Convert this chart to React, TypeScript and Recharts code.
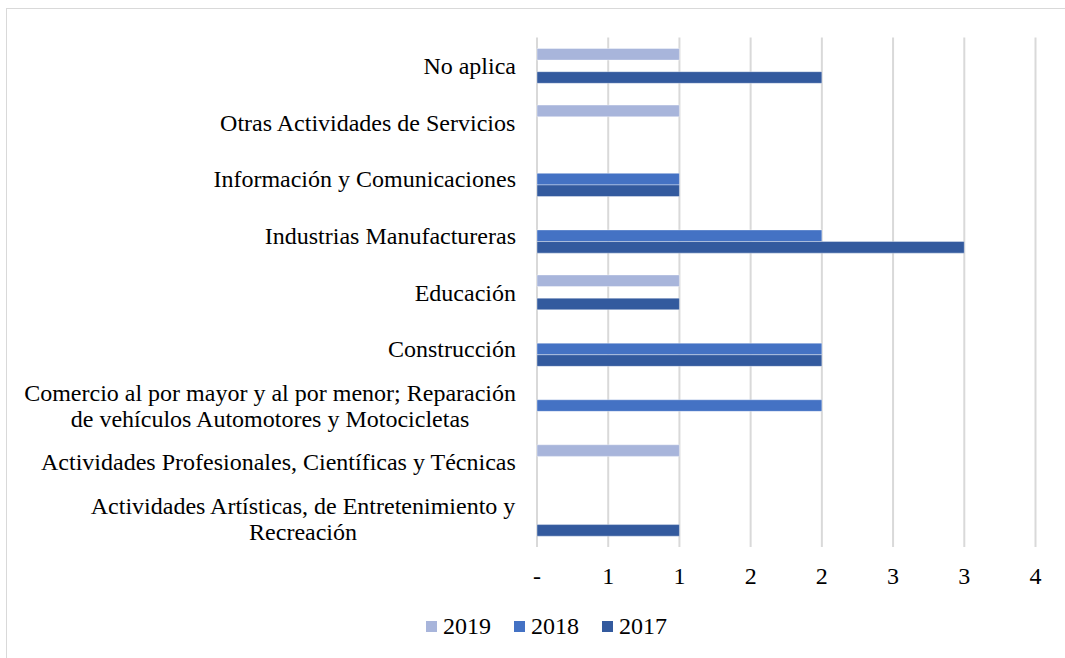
import { Bar, BarChart, CartesianGrid, Legend, XAxis, YAxis } from 'recharts';

// categories, top to bottom ('\n' marks where the label wraps)
const categories = [
  'No aplica',
  'Otras Actividades de Servicios',
  'Información y Comunicaciones',
  'Industrias Manufactureras',
  'Educación',
  'Construcción',
  'Comercio al por mayor y al por menor; Reparación\nde vehículos Automotores y Motocicletas',
  'Actividades Profesionales, Científicas y Técnicas',
  'Actividades Artísticas, de Entretenimiento y\nRecreación',
];

const values2019 = [1, 1, null, null, 1, null, null, 1, null];
const values2018 = [null, null, 1, 2, null, 2, 2, null, null];
const values2017 = [2, null, 1, 3, 1, 2, null, null, 1];

const seriesNames = ['2019', '2018', '2017'];

const xTicks = [0, 0.5, 1, 1.5, 2, 2.5, 3, 3.5];

const data = categories.map((name, i) => ({
  name,
  y2019: values2019[i],
  y2018: values2018[i],
  y2017: values2017[i],
}));

const FONT = "'Liberation Serif', 'Times New Roman', serif";

let ctx: CanvasRenderingContext2D | null = null;
const measure = (s: string) => {
  if (!ctx) ctx = document.createElement('canvas').getContext('2d');
  if (!ctx) return s.length * 10;
  ctx.font = `24px ${FONT}`;
  return ctx.measureText(s).width;
};

const CategoryTick = ({ x, y, payload }: any) => {
  const lines = String(payload.value).split('\n');
  const maxW = Math.max(...lines.map(measure));
  const cx = x - maxW / 2;
  return (
    <text x={cx} y={y} textAnchor="middle" fontSize={24} fontFamily={FONT} fill="#000">
      {lines.map((l, i) => (
        <tspan key={i} x={cx} y={y + (i - (lines.length - 1) / 2) * 26} dy="0.35em">
          {l}
        </tspan>
      ))}
    </text>
  );
};

const LegendContent = ({ payload }: any) => {
  const items = [...(payload || [])].sort(
    (a: any, b: any) => seriesNames.indexOf(a.value) - seriesNames.indexOf(b.value)
  );
  return (
    <div style={{ display: 'flex', alignItems: 'center', fontFamily: FONT, fontSize: 24, color: '#000' }}>
      {items.map((p: any) => (
        <div key={p.value} style={{ display: 'flex', alignItems: 'center', marginRight: 23 }}>
          <span style={{ display: 'inline-block', width: 11, height: 11, background: p.color, marginRight: 6 }} />
          <span>{p.value}</span>
        </div>
      ))}
    </div>
  );
};

export default function App() {
  return (
    <div style={{ position: 'absolute', left: 0, top: 0, width: 1065, height: 658, overflow: 'hidden', background: '#fff' }}>
      <div
        style={{
          position: 'absolute',
          left: 6,
          top: 8,
          width: 2000,
          height: 2000,
          border: '1.5px solid #d9d9d9',
        }}
      />
      <BarChart
        width={1065}
        height={658}
        data={data}
        layout="vertical"
        margin={{ top: 37.5, right: 29.5, bottom: 44, left: 0 }}
        barSize={11.6}
        barGap={0}
        style={{ position: 'absolute', left: 0, top: 0 }}
      >
        <CartesianGrid horizontal={false} stroke="#d9d9d9" strokeWidth={2} />
        <XAxis
          type="number"
          domain={[0, 3.5]}
          ticks={xTicks}
          axisLine={false}
          tickLine={false}
          tickMargin={14}
          height={40}
          tick={{ fontSize: 24, fontFamily: FONT, fill: '#000' }}
          tickFormatter={(v: number) => (v === 0 ? '-' : String(Math.round(v)))}
        />
        <YAxis
          type="category"
          dataKey="name"
          width={537}
          axisLine={false}
          tickLine={false}
          tickMargin={15}
          interval={0}
          tick={<CategoryTick />}
        />
        <Legend
          verticalAlign="bottom"
          content={<LegendContent />}
          wrapperStyle={{ left: 426, top: 613, bottom: 'auto', width: 'auto' }}
        />
        <Bar dataKey="y2019" name="2019" fill="#a8b5db" stroke="#ffffff" strokeOpacity={0.5} strokeWidth={0.75} isAnimationActive={false} />
        <Bar dataKey="y2018" name="2018" fill="#4472c4" stroke="#ffffff" strokeOpacity={0.5} strokeWidth={0.75} isAnimationActive={false} />
        <Bar dataKey="y2017" name="2017" fill="#335a9e" stroke="#ffffff" strokeOpacity={0.5} strokeWidth={0.75} isAnimationActive={false} />
      </BarChart>
    </div>
  );
}
